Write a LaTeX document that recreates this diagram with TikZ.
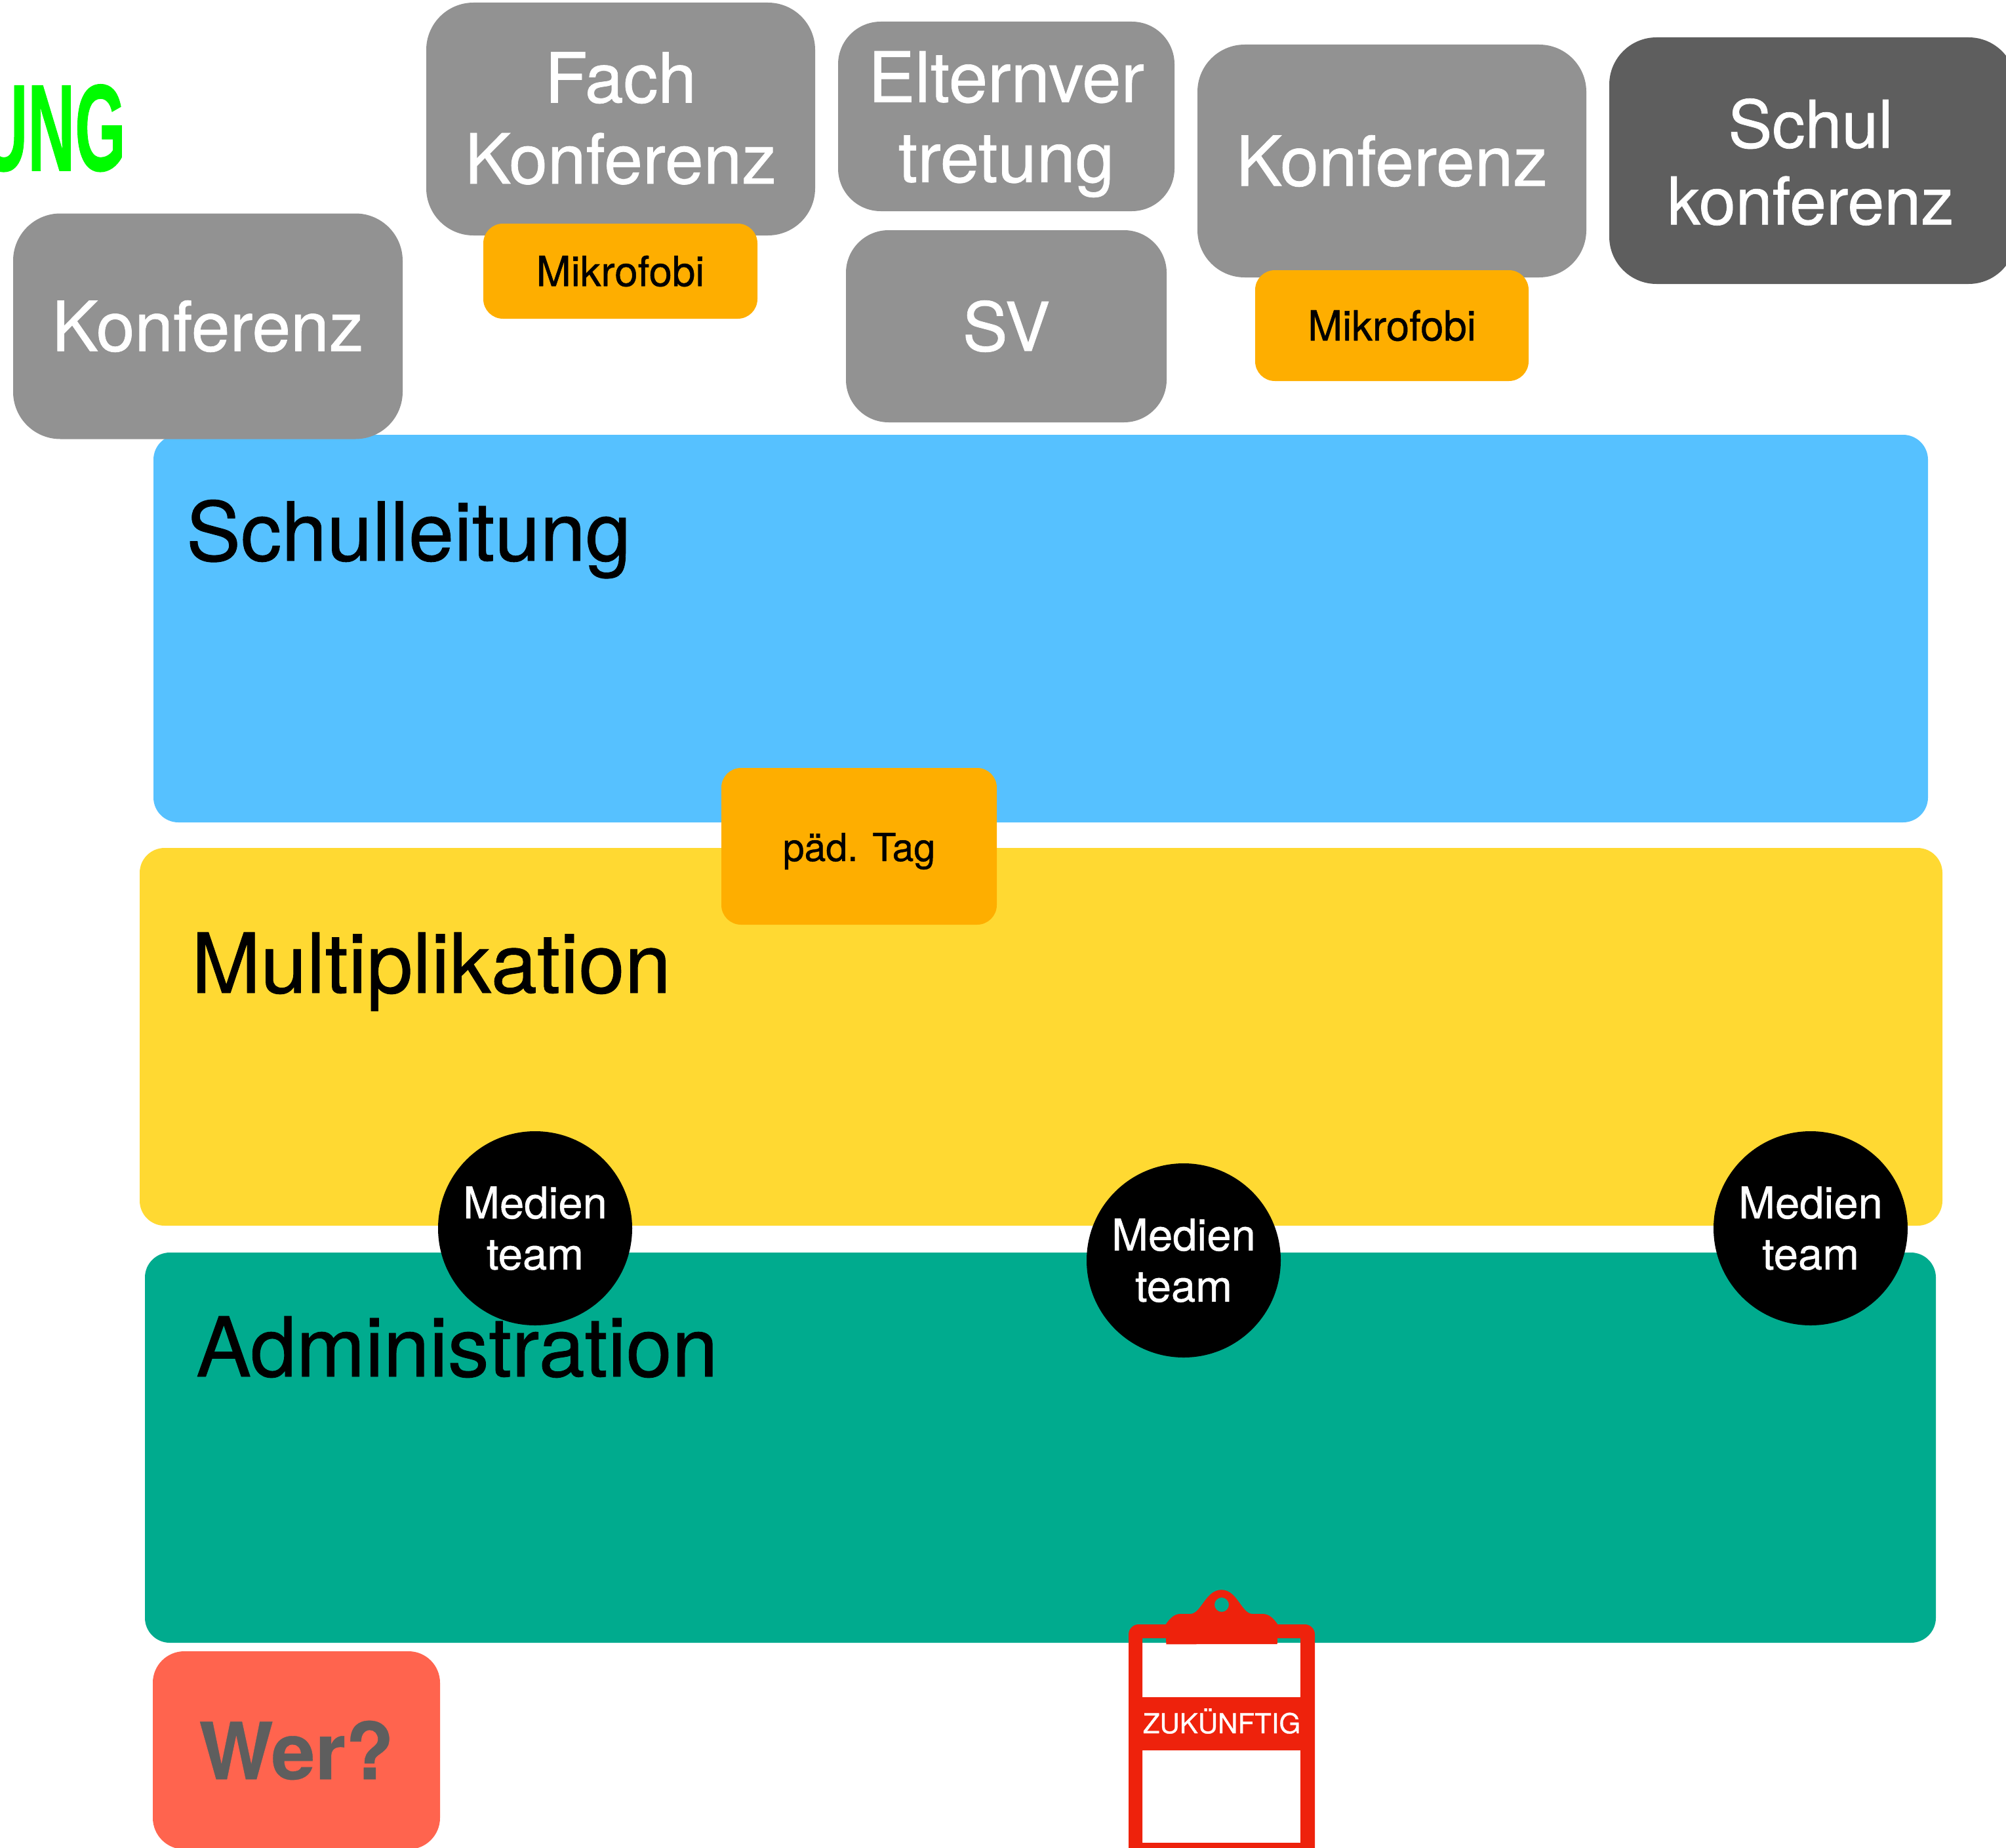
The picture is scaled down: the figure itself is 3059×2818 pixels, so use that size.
\documentclass[tikz,border=0pt]{standalone}
\usepackage{fontspec}
\setmainfont{TeX Gyre Heros}[FakeBold=0.7,BoldFeatures={FakeBold=0.3}]
\newfontfamily\ungfont[FakeBold=0.8]{Liberation Sans Bold}
\definecolor{greyb}{HTML}{929292}
\definecolor{darkb}{HTML}{5E5E5E}
\definecolor{orangeb}{HTML}{FEAE00}
\definecolor{blueb}{HTML}{56C1FF}
\definecolor{yellowb}{HTML}{FFD932}
\definecolor{tealb}{HTML}{00AB8E}
\definecolor{coralb}{HTML}{FF644E}
\definecolor{clipred}{HTML}{EE220C}
\definecolor{limeb}{HTML}{00FC00}
\tikzset{
  x=1pt,y=-1pt,
  panel/.style={rectangle,inner sep=0pt,outer sep=0pt,rounded corners=38pt},
  greybox/.style={rectangle,fill=greyb,text=white,inner sep=0pt,outer sep=0pt,rounded corners=72pt,align=center,font=\fontsize{105.5}{122}\selectfont},
  boxtext/.style={inner sep=0pt,outer sep=0pt,text=white,align=center},
  orangebox/.style={rectangle,fill=orangeb,text=black,inner sep=0pt,outer sep=0pt,rounded corners=30pt,align=center},
  title/.style={anchor=base west,inner sep=0pt,outer sep=0pt,text=black},
  teamdot/.style={circle,fill=black,text=white,inner sep=0pt,outer sep=0pt,minimum size=296pt,align=center,font=\fontsize{67}{78}\selectfont},
}
\begin{document}
\begin{tikzpicture}
\useasboundingbox (0,0) rectangle (3059,2818);
\clip (0,0) rectangle (3059,2818);
% panels
\node[panel,fill=blueb,minimum width=2706pt,minimum height=591pt] (lead) at (1587,958.5) {};
\node[panel,fill=yellowb,minimum width=2749pt,minimum height=576pt] (multi) at (1587.5,1581) {};
\node[panel,fill=tealb,minimum width=2731pt,minimum height=595pt] (admin) at (1586.5,2207.5) {};
\node[title,font=\fontsize{124.5}{130}\selectfont] (leadt) at (284,855) {Schulleitung};
\node[title,font=\fontsize{126.5}{130}\selectfont] (multit) at (292,1514) {Multiplikation};
\node[title,font=\fontsize{126}{130}\selectfont] (admint) at (299,2099) {Administration};
% green text
\node[anchor=base east,inner sep=0pt,text=limeb] (ung) at (192,260) {\scalebox{0.53}[1]{\ungfont\fontsize{188}{190}\selectfont UNG}};
% grey boxes
\node[greybox,minimum width=594pt,minimum height=344pt] (konfa) at (317,497.5) {Konferenz};
\node[greybox,minimum width=593pt,minimum height=355pt] (fach) at (946.5,181.5) {};
\node[boxtext,font=\fontsize{105.5}{123.5}\selectfont,yshift=1pt] (facht) at (fach.center) {Fach\\Konferenz};
\node[greybox,minimum width=513pt,minimum height=289pt,rounded corners=65pt] (eltern) at (1534.5,177.5) {};
\node[boxtext,font=\fontsize{106.5}{122}\selectfont,yshift=-12pt] (elternt) at (eltern.center) {Elternver\\tretung};
\node[greybox,minimum width=489pt,minimum height=293pt,rounded corners=65pt,font=\fontsize{103}{122}\selectfont] (sv) at (1534.5,497.5) {SV};
\node[greybox,minimum width=593pt,minimum height=355pt] (konfb) at (2122.5,245.5) {Konferenz};
\node[greybox,fill=darkb,minimum width=620pt,minimum height=376pt] (schul) at (2764,245) {};
\node[boxtext,font=\fontsize{100.5}{117}\selectfont,yshift=-2pt,xshift=-3pt] (schult) at (schul.center) {Schul\\konferenz};
% orange boxes
\node[orangebox,minimum width=418pt,minimum height=145pt,font=\fontsize{63.5}{70}\selectfont] (mikroa) at (946,413.5) {Mikrofobi};
\node[orangebox,minimum width=417pt,minimum height=169pt,font=\fontsize{63.5}{70}\selectfont] (mikrob) at (2122.5,496.5) {Mikrofobi};
\node[orangebox,minimum width=420pt,minimum height=239pt,font=\fontsize{59}{70}\selectfont,text height=50pt,text depth=5pt] (tag) at (1310,1290.5) {päd. Tag};
% media team
\node[teamdot] (teama) at (816,1873) {Medien\\team};
\node[teamdot] (teamb) at (1805,1922) {Medien\\team};
\node[teamdot] (teamc) at (2761,1873) {Medien\\team};
% who
\node[rectangle,fill=coralb,rounded corners=48pt,inner sep=0pt,outer sep=0pt,minimum width=438pt,minimum height=302pt,text=darkb,font=\bfseries\fontsize{120}{122}\selectfont] (wer) at (452,2669) {Wer?};
% clipboard
\fill[clipred,even odd rule]
  (1721,2830) -- (1721,2492) .. controls (1721,2484) and (1728,2477) .. (1736,2477) -- (1990,2477) .. controls (1998,2477) and (2005,2484) .. (2005,2492) -- (2005,2830) -- cycle
  (1742,2498) rectangle (1983,2588)
  (1742,2669) rectangle (1983,2810);
\fill[clipred] (1721,2588) rectangle (2005,2669);
\fill[clipred,even odd rule]
  (1778.3,2507.3) -- (1777.7,2477) .. controls (1785,2466) and (1792,2461) .. (1800,2461) -- (1815,2461)
  .. controls (1832,2461) and (1838,2424.3) .. (1862.7,2424.3)
  .. controls (1887,2424.3) and (1893,2461) .. (1910,2461) -- (1925,2461)
  .. controls (1934,2461) and (1941,2466) .. (1948.3,2477) -- (1947.7,2507) -- cycle
  (1863,2447) circle[radius=11];
\node[inner sep=0pt,outer sep=0pt,text=white,anchor=base,font=\fontsize{42}{46}\selectfont] (zuk) at (1863,2643) {ZUKÜNFTIG};
\end{tikzpicture}
\end{document}
